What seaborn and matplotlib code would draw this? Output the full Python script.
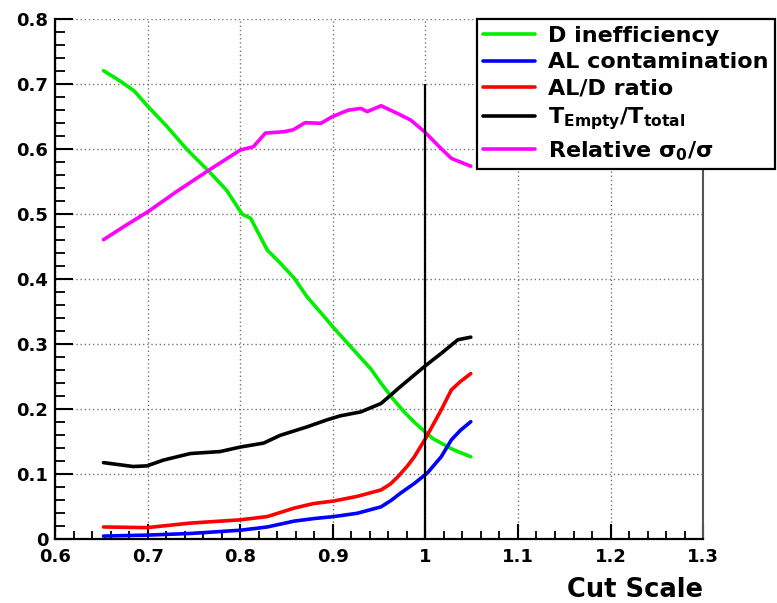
import numpy as np
import pandas as pd
import seaborn as sns
import matplotlib.pyplot as plt
from matplotlib.ticker import MultipleLocator

# values
d_ineff_x = [0.652, 0.670, 0.685, 0.700, 0.720, 0.742, 0.766, 0.785, 0.802, 0.811, 0.829,
             0.843, 0.858, 0.872, 0.886, 0.901, 0.920, 0.941, 0.952, 0.966, 0.977, 0.988,
             0.999, 1.008, 1.017, 1.030, 1.049]
d_ineff_y = [0.721, 0.705, 0.690, 0.666, 0.636, 0.600, 0.566, 0.537, 0.500, 0.494, 0.445,
             0.425, 0.402, 0.373, 0.350, 0.325, 0.295, 0.262, 0.240, 0.214, 0.196, 0.180,
             0.166, 0.155, 0.148, 0.138, 0.127]

al_cont_x = [0.652, 0.700, 0.746, 0.800, 0.829, 0.858, 0.880, 0.901, 0.926, 0.952, 0.963,
             0.973, 0.988, 1.002, 1.017, 1.028, 1.038, 1.049]
al_cont_y = [0.005, 0.0065, 0.009, 0.014, 0.019, 0.028, 0.032, 0.035, 0.040, 0.050, 0.060,
             0.071, 0.086, 0.102, 0.127, 0.153, 0.168, 0.181]

al_d_x = [0.652, 0.699, 0.746, 0.800, 0.829, 0.858, 0.879, 0.901, 0.926, 0.952, 0.962,
          0.970, 0.980, 0.988, 1.000, 1.017, 1.028, 1.038, 1.049]
al_d_y = [0.019, 0.018, 0.025, 0.030, 0.035, 0.048, 0.055, 0.059, 0.066, 0.076, 0.085,
          0.096, 0.112, 0.127, 0.155, 0.199, 0.230, 0.243, 0.255]

t_empty_x = [0.652, 0.684, 0.699, 0.717, 0.746, 0.778, 0.800, 0.825, 0.843, 0.872, 0.894,
             0.908, 0.930, 0.952, 0.973, 0.999, 1.017, 1.035, 1.049]
t_empty_y = [0.118, 0.112, 0.113, 0.122, 0.132, 0.135, 0.142, 0.148, 0.160, 0.173, 0.184,
             0.190, 0.196, 0.209, 0.235, 0.266, 0.286, 0.307, 0.311]

rel_sigma_x = [0.652, 0.675, 0.700, 0.731, 0.766, 0.800, 0.814, 0.827, 0.847, 0.857, 0.870,
               0.887, 0.899, 0.916, 0.930, 0.937, 0.952, 0.970, 0.984, 0.999, 1.017, 1.028,
               1.049]
rel_sigma_y = [0.461, 0.482, 0.504, 0.535, 0.568, 0.599, 0.604, 0.625, 0.627, 0.630, 0.641,
               0.640, 0.650, 0.660, 0.663, 0.658, 0.667, 0.655, 0.645, 0.627, 0.601, 0.586,
               0.574]

series_names = ["D inefficiency", "AL contamination", "AL/D ratio",
                r"$\mathbf{T}_{\mathbf{Empty}}\mathbf{/T}_{\mathbf{total}}$",
                r"Relative $\sigma_0/\sigma$"]
series_colors = ["#00ee00", "#0000ff", "#ff0000", "#000000", "#ff00ff"]
series_x = [d_ineff_x, al_cont_x, al_d_x, t_empty_x, rel_sigma_x]
series_y = [d_ineff_y, al_cont_y, al_d_y, t_empty_y, rel_sigma_y]

x_ticks = [0.6, 0.7, 0.8, 0.9, 1.0, 1.1, 1.2, 1.3]
x_tick_labels = ["0.6", "0.7", "0.8", "0.9", "1", "1.1", "1.2", "1.3"]
y_ticks = [0, 0.1, 0.2, 0.3, 0.4, 0.5, 0.6, 0.7, 0.8]
y_tick_labels = ["0", "0.1", "0.2", "0.3", "0.4", "0.5", "0.6", "0.7", "0.8"]
cut_x = 1.0
cut_top = 0.7

sns.set_theme(style="white")
plt.rcParams['font.family'] = ['DejaVu Sans']
plt.rcParams['font.weight'] = 'bold'
plt.rcParams['text.color'] = 'black'
plt.rcParams['axes.labelcolor'] = 'black'
plt.rcParams['xtick.color'] = 'black'
plt.rcParams['ytick.color'] = 'black'
plt.rcParams['mathtext.fontset'] = 'custom'
plt.rcParams['mathtext.rm'] = 'DejaVu Sans'
plt.rcParams['mathtext.bf'] = 'DejaVu Sans:bold'
plt.rcParams['mathtext.it'] = 'DejaVu Sans'

frames = []
for name, xs, ys in zip(series_names, series_x, series_y):
    frames.append(pd.DataFrame({"x": xs, "y": ys, "series": name}))
df = pd.concat(frames, ignore_index=True)

fig = plt.figure(figsize=(7.77, 6.03), dpi=100)
ax = fig.add_axes([0.0713, 0.1056, 0.8335, 0.8624])

sns.lineplot(data=df, x="x", y="y", hue="series", hue_order=series_names,
             palette=series_colors, linewidth=2.6, ax=ax, legend=False,
             estimator=None, sort=False)
ax.vlines(cut_x, 0, cut_top, color="black", linewidth=1.6)

ax.set_xlim(0.6, 1.3)
ax.set_ylim(0, 0.8)
ax.set_xticks(x_ticks)
ax.set_xticklabels(x_tick_labels)
ax.set_yticks(y_ticks)
ax.set_yticklabels(y_tick_labels)
ax.xaxis.set_minor_locator(MultipleLocator(0.02))
ax.yaxis.set_minor_locator(MultipleLocator(0.02))
ax.tick_params(axis="both", which="both", direction="in", labelsize=13,
               color="black", labelcolor="black")
ax.tick_params(axis="y", which="major", length=13, width=1.5, pad=5)
ax.tick_params(axis="y", which="minor", length=7, width=1.3)
ax.tick_params(axis="x", which="major", length=11, width=1.5, pad=6)
ax.tick_params(axis="x", which="minor", length=6, width=1.3)
ax.tick_params(left=True, bottom=True, which="both")
for lab in ax.get_xticklabels() + ax.get_yticklabels():
    lab.set_fontweight("bold")

ax.grid(True, which="major", color="#777777", linestyle=(0, (1, 2)), linewidth=1)
ax.spines["top"].set_visible(False)
ax.spines["left"].set_color("black")
ax.spines["bottom"].set_color("black")
ax.spines["left"].set_linewidth(1.6)
ax.spines["bottom"].set_linewidth(1.6)
ax.spines["right"].set_color("#555555")
ax.spines["right"].set_linewidth(1.5)

ax.set_ylabel("")
ax.set_xlabel("Cut Scale", fontsize=18.5, fontweight="bold", loc="right", color="black")
ax.xaxis.set_label_coords(1.0, -0.073)

handles = [plt.Line2D([], [], color=c, linewidth=2.6) for c in series_colors]
leg = fig.legend(handles, series_names, loc="upper right",
                 bbox_to_anchor=(775 / 777, 1 - 19 / 603), fancybox=False,
                 framealpha=1, edgecolor="black", prop={"size": 16, "weight": "bold"},
                 handlelength=2.3, handletextpad=0.6, labelspacing=0.3,
                 borderpad=0.3, borderaxespad=0, labelcolor="black")
leg.get_frame().set_linewidth(1.6)

fig.savefig("out.png", dpi=100)
